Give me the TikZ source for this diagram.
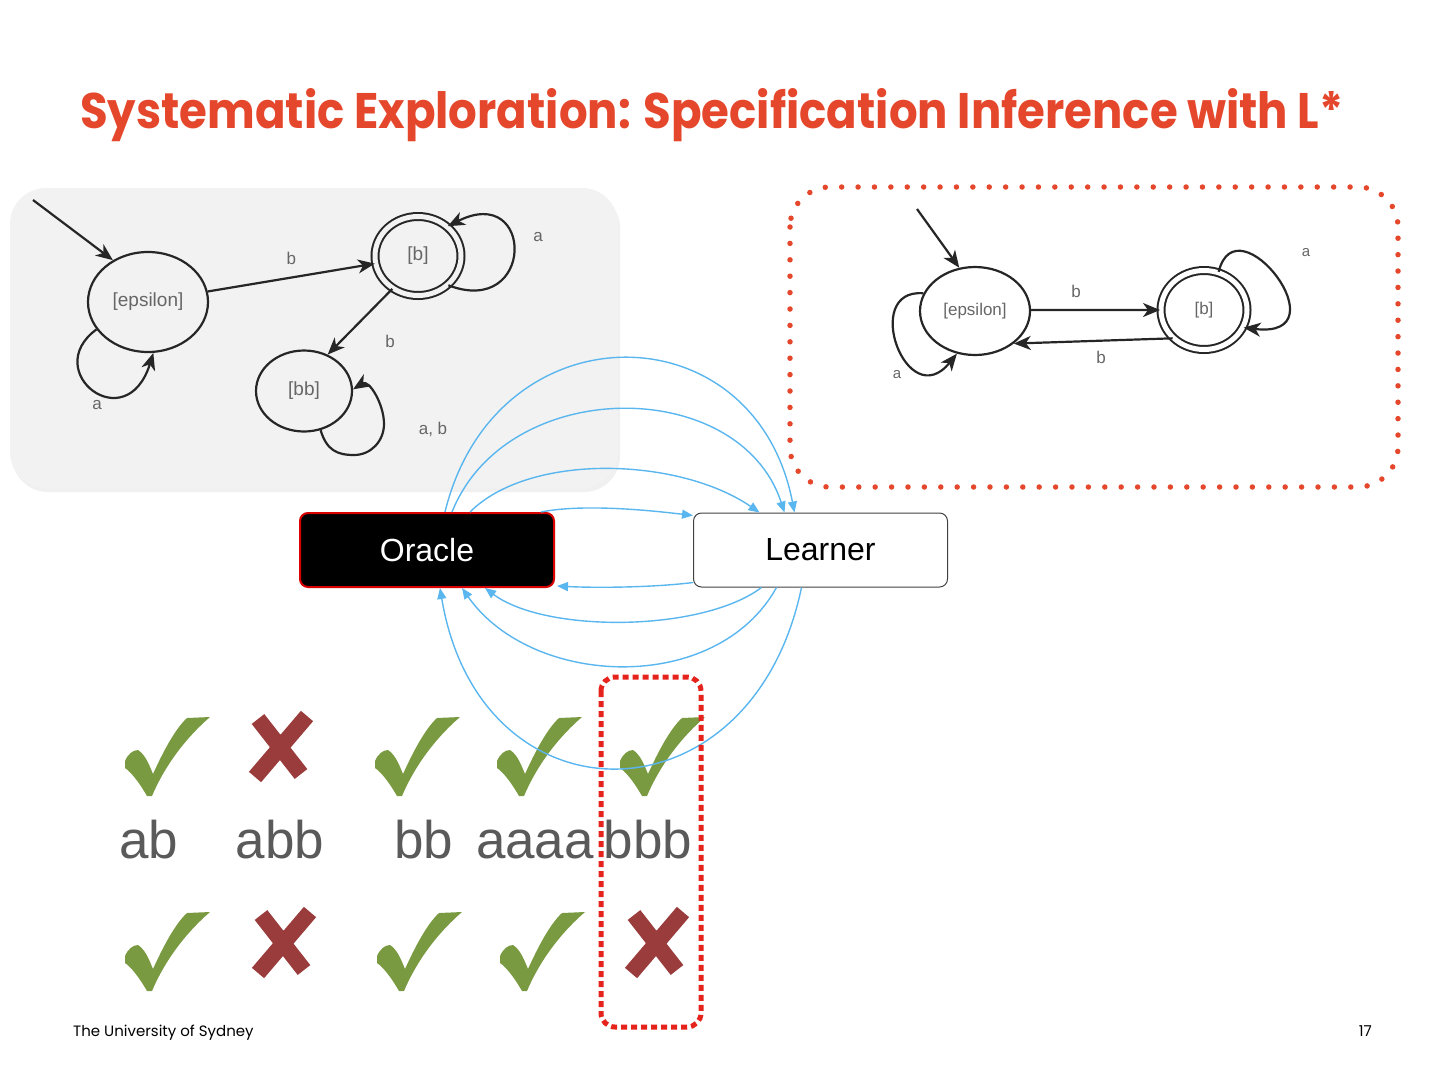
\documentclass[tikz,border=0pt]{standalone}
\usepackage{graphicx}
\usepackage{fontspec}
\setmainfont{Liberation Sans}
\newfontfamily\titlefont{Poppins}
\usetikzlibrary{arrows.meta,positioning,shapes.geometric}
\definecolor{slidered}{HTML}{E5472C}
\definecolor{dotred}{HTML}{E5221C}
\definecolor{skyblue}{HTML}{5AB6EE}
\definecolor{chkgreen}{HTML}{7A9A42}
\definecolor{crossred}{HTML}{9A3C3C}
\definecolor{wordgrey}{HTML}{5A5A5A}
\definecolor{boxgrey}{HTML}{F2F2F2}

\begin{document}
\begin{tikzpicture}[x=1pt, y=-1pt, node distance=138pt,
    state/.style={draw=black!85, ellipse, line width=2.2pt, inner sep=0pt, text=black!60, font=\fontsize{19}{19}\selectfont},
    acc/.style={state, double, double distance=5pt, line width=2pt},
    edge/.style={-{Stealth[length=17pt,width=14pt,inset=5pt]}, draw=black!85, line width=2.2pt},
    lbl/.style={text=black!60, font=\fontsize{17}{17}\selectfont},
    query/.style={-{Triangle[length=11pt,width=9pt]}, skyblue, line width=1.4pt},
    agent/.style={rounded corners=8pt, minimum width=254pt, minimum height=74pt, font=\fontsize{32}{32}\selectfont},
    word/.style={anchor=base, text=wordgrey, font=\fontsize{53}{53}\selectfont},
    chk/.pic={\fill[chkgreen] (0,44) .. controls (3,37) and (8,33) .. (13,33) .. controls (21,38) and (25,50) .. (28,57)
        .. controls (38,35) and (50,12) .. (62,1) -- (85,0) .. controls (63,19) and (41,46) .. (27,79) -- (22,79)
        .. controls (14,65) and (6,55) .. (0,51) -- cycle;},
    crs/.pic={\draw[crossred, line width=16pt] (-22,-27) -- (21,28) (27,-30) -- (-25,31);}]
    \useasboundingbox (0,0) rectangle (1440,1080);

    \node[anchor=base west, text=slidered, inner sep=0pt] (title) at (80,128)
        {\resizebox{1263pt}{40pt}{\titlefont\bfseries Systematic Exploration: Specification Inference with L*}};

    % hypothesis and target automata
    \fill[black!6, rounded corners=36pt] (12,192) rectangle (620,492);
    \fill[boxgrey, rounded corners=36pt] (10,188) rectangle (618,488);

    \node[state, minimum width=120pt, minimum height=100pt] (eps1) at (148,302) {[epsilon]};
    \node[acc, double=boxgrey, minimum width=86pt, minimum height=79pt] (b1) at (418,256) {[b]};
    \node[state, minimum width=96pt, minimum height=81pt] (bb1) at (304,391) {[bb]};
    \coordinate (ini1) at (33,200);
    \draw[edge] (ini1) -- (eps1.130);
    \draw[edge] (eps1.10) -- (b1.190) node[lbl, midway, above=8pt] {b};
    \draw[edge] (b1.232) -- (bb1.57);
    \draw[edge] (eps1.208) .. controls +(-57,42) and +(-27,87) .. (eps1.276);
    \draw[edge] (b1.316) .. controls +(87,33) and +(87,-44) .. (b1.45);
    \draw[edge] (bb1.293) .. controls +(6,20) and +(-17,0) .. (354,455) .. controls +(17,0) and +(0,17) .. (384,424)
        .. controls +(0,-20) and +(16,-10) .. (bb1.2);
    \node[lbl] (l1) at (390,341) {b};
    \node[lbl] (l2) at (97,405) {a};
    \node[lbl] (l3) at (538,237) {a};
    \node[lbl] (l4) at (433,429) {a, b};

    \node[state, minimum width=110pt, minimum height=88pt, font=\fontsize{17}{17}\selectfont] (eps2) at (975,311) {[epsilon]};
    \node[acc, double=white, minimum width=86pt, minimum height=79pt, font=\fontsize{17}{17}\selectfont] (b2) at (1204,310) {[b]};
    \coordinate (ini2) at (917,209);
    \draw[edge] (ini2) -- (eps2.110);
    \draw[edge] (eps2.1) -- (b2.180) node[lbl, pos=0.35, above=8pt] {b};
    \draw[edge] (b2.222) -- (eps2.320) node[lbl, pos=0.45, below=6pt] {b};
    \draw[edge] (eps2.161) .. controls +(-63,-5) and +(-50,62) .. (eps2.247);
    \draw[edge] (b2.69) .. controls +(18,-73) and +(101,12) .. (b2.336);
    \node[lbl, font=\fontsize{15}{15}\selectfont] (l5) at (897,375) {a};
    \node[lbl, font=\fontsize{15}{15}\selectfont] (l6) at (1306,253) {a};

    \draw[slidered, line width=5.5pt, line cap=round, dash pattern=on 0pt off 16.4pt, rounded corners=40pt]
        (790,187) rectangle (1398,487);

    % queries
    \node[agent, fill=black, draw=red!85!black, line width=2pt, text=white] (orac) at (427,550) {Oracle};
    \node[agent, right=of orac, draw=black!75, line width=1pt] (lrn) {Learner};

    \pic at (125,717) {chk};
    \pic at (280,746) {crs};
    \pic at (375,717) {chk};
    \pic at (497,717) {chk};
    \pic at (620,717) {chk};
    \node[word] (w1) at (149,858) {ab};
    \node[word] (w2) at (280,858) {abb};
    \node[word] (w3) at (424,858) {bb};
    \node[word] (w4) at (535,858) {aaaa};
    \node[word] (w5) at (648,858) {bbb};
    \pic at (125,912) {chk};
    \pic at (283,942) {crs};
    \pic at (377,912) {chk};
    \pic at (500,912) {chk};
    \pic at (656,942) {crs};

    \draw[query] ([xshift=18pt]orac.north) .. controls +(50,-205) and +(-40,-205) .. ([xshift=-26pt]lrn.north);
    \draw[query] ([xshift=25pt]orac.north) .. controls +(55,-137) and +(-45,-137) .. ([xshift=-36pt]lrn.north);
    \draw[query] ([xshift=43pt]orac.north) .. controls +(60,-60) and +(-80,-55) .. ([xshift=-61pt]lrn.north);
    \draw[query] ([xshift=-14pt]orac.north east) .. controls +(40,-8) and +(-50,-6) .. ([yshift=-3pt]lrn.north west);
    \draw[query] ([yshift=5pt]lrn.south west) .. controls +(-40,5) and +(40,2) .. ([xshift=2pt,yshift=2pt]orac.south east);
    \draw[query] ([xshift=-59pt]lrn.south) .. controls +(-60,45) and +(60,45) .. ([xshift=58pt]orac.south);
    \draw[query] ([xshift=-44pt]lrn.south) .. controls +(-60,108) and +(70,100) .. ([xshift=35pt]orac.south);
    \draw[query] ([xshift=-19pt]lrn.south) .. controls +(-50,240) and +(40,240) .. ([xshift=13pt]orac.south);

    \draw[dotred, line width=5pt, dash pattern=on 6pt off 4pt, rounded corners=14pt] (601,677) rectangle (701,1027);

    \node[anchor=base west, inner sep=0pt, font=\titlefont\fontsize{15}{15}\selectfont] (uni) at (73,1036) {The University of Sydney};
    \node[anchor=base east, inner sep=0pt, font=\titlefont\fontsize{15}{15}\selectfont] (page) at (1372,1036) {17};
\end{tikzpicture}
\end{document}
